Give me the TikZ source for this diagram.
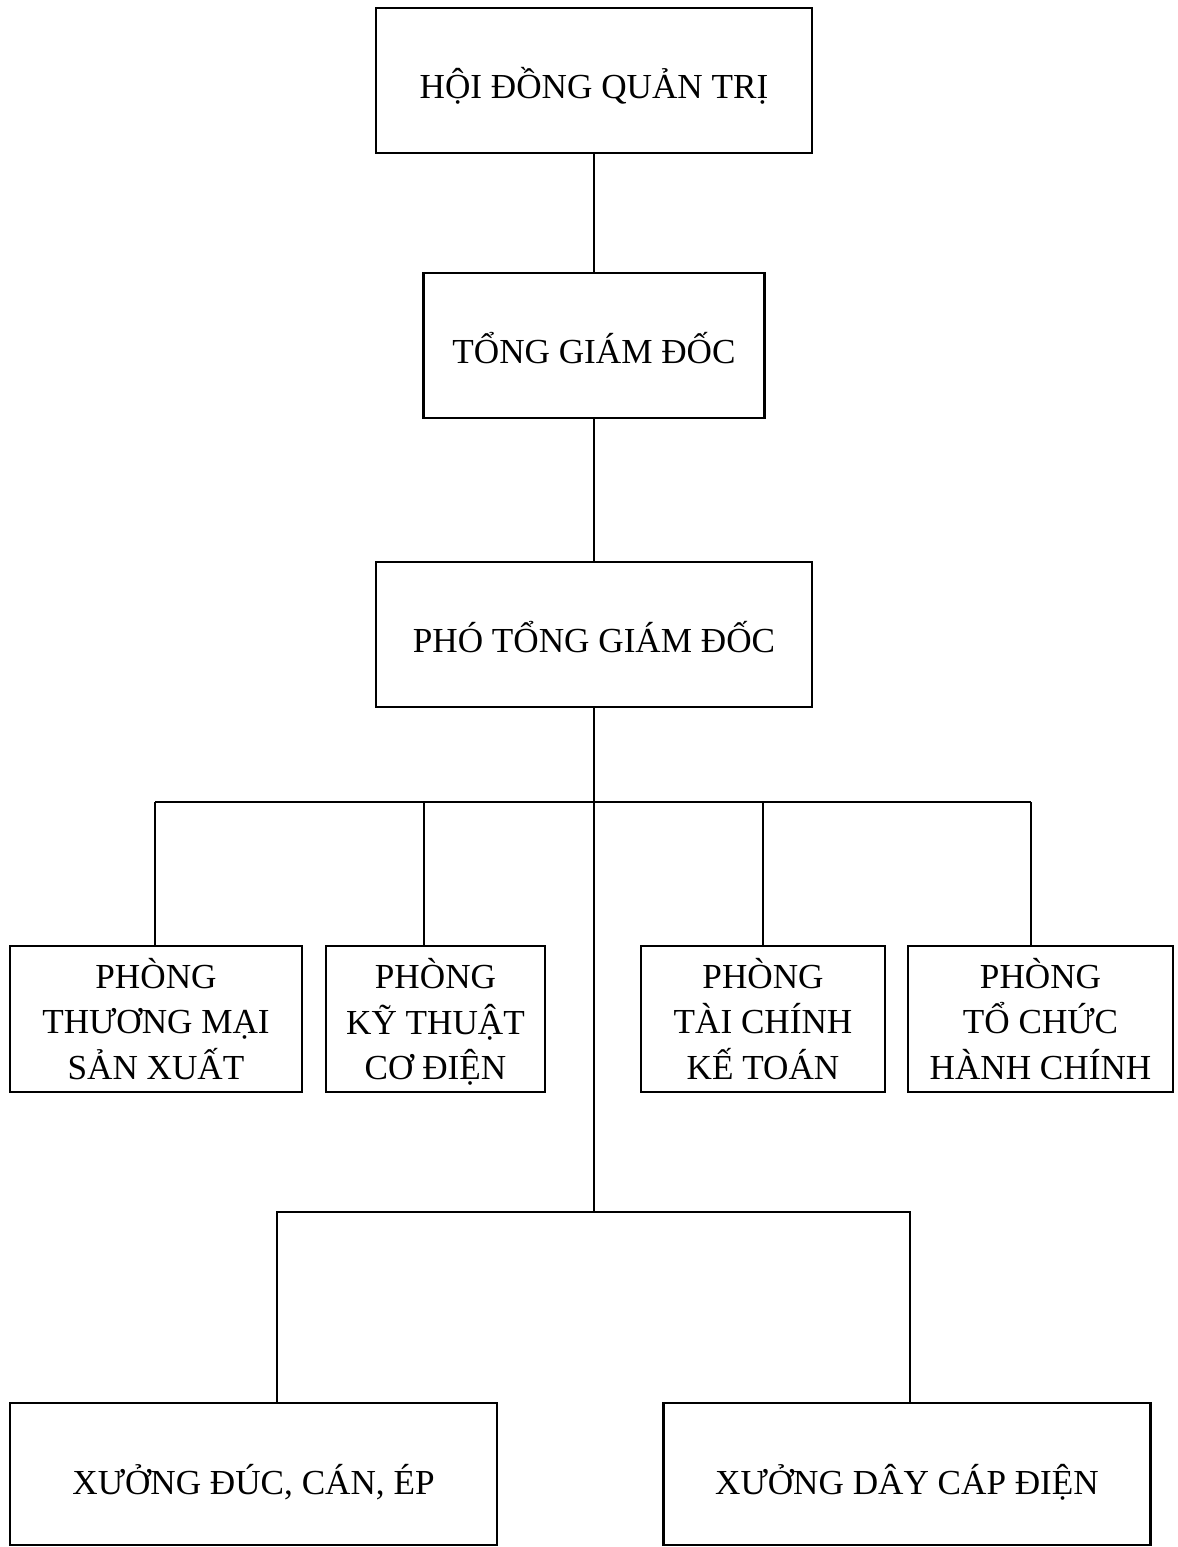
\documentclass[tikz,border=0pt]{standalone}
\usepackage{fontspec}
\setmainfont{Liberation Serif}
\usepackage{tikz}
\usetikzlibrary{positioning, calc}

\begin{document}
\begin{tikzpicture}[
  x=0.025cm, y=-0.025cm,
  font=\fontsize{25}{32.6}\selectfont,
  unit/.style={draw, line width=1.7pt, align=center, inner sep=0pt},
  head/.style={unit, minimum height=3.62cm, text height=0.875cm, text depth=0pt},
  dept/.style={unit, minimum height=3.65cm},
  shop/.style={unit, minimum width=12.17cm, minimum height=3.55cm, text height=1.0cm, text depth=0pt},
  link/.style={draw, line width=1.3pt}
]
\useasboundingbox (0,0) rectangle (1178,1547);

% top of the chart
\node[head, minimum width=10.9cm] (board) at (594,80.5) {HỘI ĐỒNG QUẢN TRỊ};
\node[head, minimum width=8.52cm] (ceo) at (594,345.5) {TỔNG GIÁM ĐỐC};
\node[head, minimum width=10.9cm] (vice) at (594,634.5) {PHÓ TỔNG GIÁM ĐỐC};

% departments
\node[dept, minimum width=7.3cm] (d1) at (156,1019) {PHÒNG\\THƯƠNG MẠI\\SẢN XUẤT};
\node[dept, minimum width=5.48cm] (d2) at (435.5,1019) {PHÒNG\\KỸ THUẬT\\\raisebox{0pt}[\height][0pt]{CƠ ĐIỆN}};
\node[dept, minimum width=6.1cm] (d3) at (763,1019) {PHÒNG\\TÀI CHÍNH\\KẾ TOÁN};
\node[dept, minimum width=6.62cm] (d4) at (1040.5,1019) {PHÒNG\\TỔ CHỨC\\HÀNH CHÍNH};

% workshops
\node[shop] (w1) at (253.5,1474) {XƯỞNG ĐÚC, CÁN, ÉP};
\node[shop] (w2) at (907,1474) {XƯỞNG DÂY CÁP ĐIỆN};

\coordinate (b1) at (155,802);
\coordinate (b2) at (424,802);
\coordinate (b3) at (763,802);
\coordinate (b4) at (1031,802);
\coordinate (k1) at (277,1212);
\coordinate (k2) at (910,1212);

\draw[link] (board) -- (ceo);
\draw[link] (ceo) -- (vice);
\draw[link] (vice.south) -- (vice |- k1);
\draw[link] (b1) -- (b4);
\foreach \i in {1,...,4}
  \draw[link] (b\i) -- (d\i.north -| b\i);
\draw[link] (w1.north -| k1) -- (k1) -- (k2) -- (w2.north -| k2);
\end{tikzpicture}
\end{document}
